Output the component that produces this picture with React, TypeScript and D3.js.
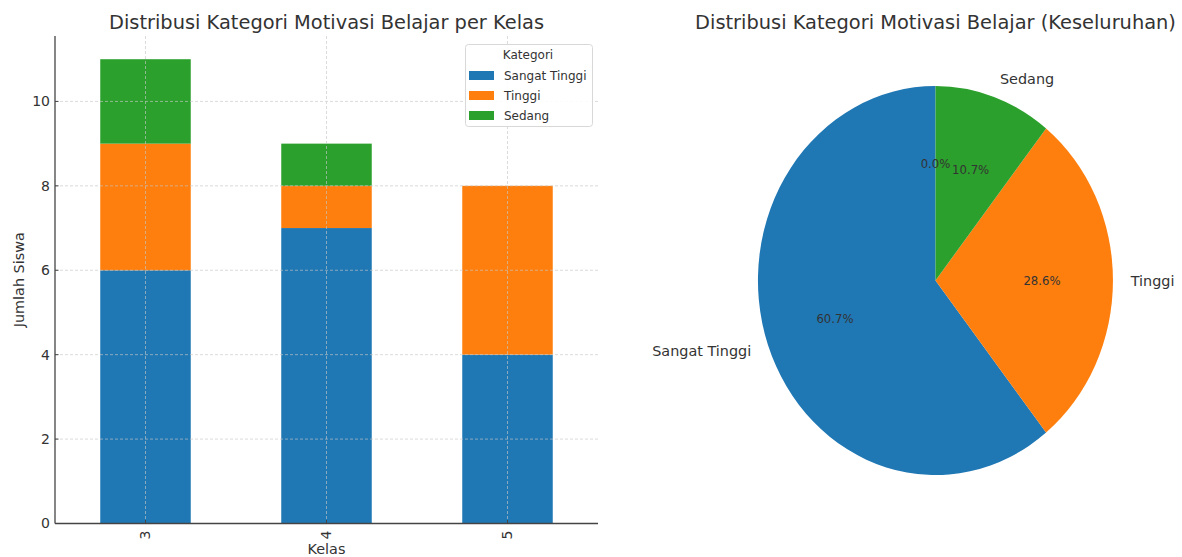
import React from "react";
import * as d3 from "d3";

// data
const kelas = ["3", "4", "5"];
const kategori = ["Sangat Tinggi", "Tinggi", "Sedang"];
const sangatTinggi = [6, 7, 4];
const tinggi = [3, 1, 4];
const sedang = [2, 1, 0];
const yTicks = [0, 2, 4, 6, 8, 10];

const pieNames = ["Sangat Tinggi", "Tinggi", "Sedang", ""];
const pieValues = [17, 8, 3, 0];

const colors = ["#1f77b4", "#ff7f0e", "#2ca02c", "#d62728"];
const font = "DejaVu Sans, sans-serif";
const textColor = "#333333";

const W = 1182;
const H = 557;

const BarChart = () => {
  const left = 55;
  const right = 598;
  const top = 36;
  const bottom = 523.5;

  const rows = kelas.map((k, i) => ({
    kelas: k,
    "Sangat Tinggi": sangatTinggi[i],
    Tinggi: tinggi[i],
    Sedang: sedang[i],
  }));
  const series = d3.stack<any>().keys(kategori)(rows);

  const x = d3
    .scaleBand()
    .domain(kelas)
    .range([left, right])
    .paddingInner(0.5)
    .paddingOuter(0.25);
  const y = d3.scaleLinear().domain([0, 11.55]).range([bottom, top]);

  return (
    <g>
      <text
        x={(left + right) / 2}
        y={29}
        textAnchor="middle"
        fontSize={19.4}
        fill={textColor}
      >
        Distribusi Kategori Motivasi Belajar per Kelas
      </text>

      {series.map((s, si) => (
        <g key={s.key} fill={colors[si]}>
          {s.map((d, i) => (
            <rect
              key={i}
              x={x(kelas[i])}
              width={x.bandwidth()}
              y={y(d[1])}
              height={Math.max(0, y(d[0]) - y(d[1]))}
            />
          ))}
        </g>
      ))}

      {/* grid over the bars, like matplotlib */}
      <g stroke="#c8c8c8" strokeWidth={0.8} strokeDasharray="3 2" opacity={0.8}>
        {yTicks.map((t) => (
          <line key={t} x1={left} x2={right} y1={y(t)} y2={y(t)} />
        ))}
        {kelas.map((k) => {
          const cx = x(k)! + x.bandwidth() / 2;
          return <line key={k} x1={cx} x2={cx} y1={top} y2={bottom} />;
        })}
      </g>

      {/* spines */}
      <line x1={left} x2={left} y1={top} y2={bottom} stroke="#444" strokeWidth={1.3} />
      <line x1={left} x2={right} y1={bottom} y2={bottom} stroke="#444" strokeWidth={1.3} />

      {yTicks.map((t) => (
        <g key={t}>
          <line x1={left} x2={left + 3.5} y1={y(t)} y2={y(t)} stroke="#444" />
          <text
            x={50}
            y={y(t)}
            dy="0.35em"
            textAnchor="end"
            fontSize={14}
            fill={textColor}
          >
            {t}
          </text>
        </g>
      ))}

      {kelas.map((k) => {
        const cx = x(k)! + x.bandwidth() / 2;
        return (
          <g key={k}>
            <line x1={cx} x2={cx} y1={bottom} y2={bottom - 3.5} stroke="#444" />
            <text
              transform={`translate(${cx},${bottom + 7}) rotate(-90)`}
              dy="0.35em"
              textAnchor="end"
              fontSize={14}
              fill={textColor}
            >
              {k}
            </text>
          </g>
        );
      })}

      <text x={(left + right) / 2} y={554} textAnchor="middle" fontSize={14.4} fill={textColor}>
        Kelas
      </text>
      <text
        transform={`translate(24,${(top + bottom) / 2}) rotate(-90)`}
        textAnchor="middle"
        fontSize={14.4}
        fill={textColor}
      >
        Jumlah Siswa
      </text>

      {/* legend */}
      <g>
        <rect
          x={465.5}
          y={44.5}
          width={127}
          height={82}
          rx={3}
          fill="white"
          fillOpacity={0.9}
          stroke="#d8d8d8"
        />
        <text x={528} y={55} dy="0.35em" textAnchor="middle" fontSize={12} fill={textColor}>
          Kategori
        </text>
        {kategori.map((k, i) => (
          <g key={k}>
            <rect x={469} y={71 + i * 20} width={25} height={9} fill={colors[i]} />
            <text x={504} y={75.5 + i * 20} dy="0.35em" fontSize={12} fill={textColor}>
              {k}
            </text>
          </g>
        ))}
      </g>
    </g>
  );
};

const PieChart = () => {
  const cx = 935.5;
  const cy = 280.5;
  const rx = 177.5;
  const ry = 194.5;

  const total = d3.sum(pieValues);
  // counter-clockwise from the top, as matplotlib does with startangle=90
  const arcs = d3
    .pie<number>()
    .sort(null)
    .startAngle(0)
    .endAngle(-2 * Math.PI)(pieValues);
  const arc = d3.arc<d3.PieArcDatum<number>>().innerRadius(0).outerRadius(1);

  const pos = (a: number, r: number) => [cx + Math.sin(a) * r * rx, cy - Math.cos(a) * r * ry];

  return (
    <g>
      <text x={935.5} y={29} textAnchor="middle" fontSize={19.4} fill={textColor}>
        Distribusi Kategori Motivasi Belajar (Keseluruhan)
      </text>
      <g transform={`translate(${cx},${cy}) scale(${rx},${ry})`}>
        {arcs.map((a, i) => (
          <path key={i} d={arc(a) || ""} fill={colors[i]} />
        ))}
      </g>
      {arcs.map((a, i) => {
        const mid = (a.startAngle + a.endAngle) / 2;
        const [px, py] = pos(mid, 0.6);
        const [lx, ly] = pos(mid, 1.1);
        const pct = ((pieValues[i] / total) * 100).toFixed(1) + "%";
        return (
          <g key={i}>
            <text x={px} y={py} dy="0.35em" textAnchor="middle" fontSize={11.7} fill={textColor}>
              {pct}
            </text>
            {pieNames[i] && (
              <text
                x={lx}
                y={ly}
                dy="0.35em"
                textAnchor={lx - cx > 0 ? "start" : "end"}
                fontSize={14.4}
                fill={textColor}
              >
                {pieNames[i]}
              </text>
            )}
          </g>
        );
      })}
    </g>
  );
};

export default function App() {
  return (
    <div style={{ position: "fixed", left: 0, top: 0, width: W, height: H, background: "white" }}>
      <svg width={W} height={H} fontFamily={font} style={{ display: "block" }}>
        <rect width={W} height={H} fill="white" />
        <BarChart />
        <PieChart />
      </svg>
    </div>
  );
}
